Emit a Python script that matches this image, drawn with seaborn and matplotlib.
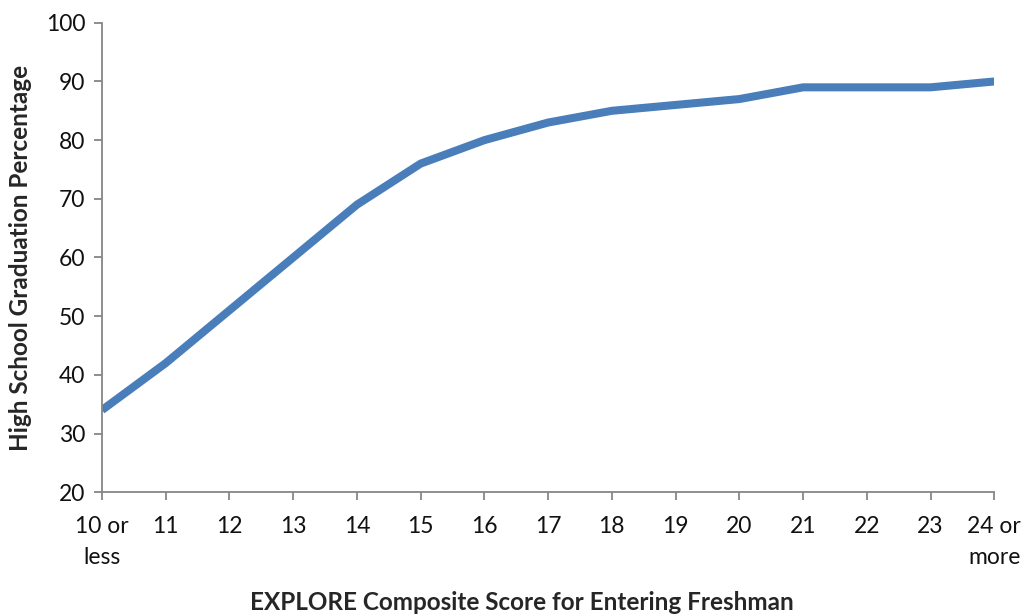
import matplotlib
matplotlib.use("Agg")
import matplotlib.pyplot as plt
import seaborn as sns
import pandas as pd

# EXPLORE composite score bands and the share of students who graduated
score_labels = ["10 or\nless", "11", "12", "13", "14", "15", "16", "17",
                "18", "19", "20", "21", "22", "23", "24 or\nmore"]
grad_pct = [34, 42, 51, 60, 69, 76, 80, 83, 85, 86, 87, 89, 89, 89, 90]
y_ticks = [20, 30, 40, 50, 60, 70, 80, 90, 100]

sns.set_theme(style="white")
plt.rcParams["font.family"] = ["Lato", "DejaVu Sans"]

df = pd.DataFrame({"score": score_labels, "pct": grad_pct})
df["pos"] = range(len(df))

fig = plt.figure(figsize=(10.25, 6.16), dpi=100)
ax = fig.add_axes([0.0995, 0.201, 0.8705, 0.762])

sns.lineplot(data=df, x="pos", y="pct", ax=ax, color="#4A7EBB",
             linewidth=5.8, solid_joinstyle="round", solid_capstyle="butt")

ax.set_xlim(0, len(score_labels) - 1)
ax.set_ylim(20, 100)
ax.set_yticks(y_ticks)
ax.set_xticks(df["pos"])
ax.set_xticklabels(score_labels, fontsize=16.5, color="#111111",
                   linespacing=1.6)
ax.tick_params(axis="y", labelsize=16.5, labelcolor="#111111")

for side in ["top", "right"]:
    ax.spines[side].set_visible(False)
for side in ["left", "bottom"]:
    ax.spines[side].set_color("#868686")
    ax.spines[side].set_linewidth(1.3)

ax.tick_params(axis="both", direction="out", length=6, width=1.3,
               color="#868686", left=True, bottom=True)
ax.tick_params(axis="x", pad=11)
ax.tick_params(axis="y", pad=6)

ax.set_xlabel("EXPLORE Composite Score for Entering Freshman",
              fontsize=17.5, fontweight="bold")
ax.xaxis.set_label_coords(0.471, -0.21)
ax.set_ylabel("High School Graduation Percentage",
              fontsize=17.5, fontweight="bold", labelpad=10)

fig.savefig("out.png", dpi=100)
